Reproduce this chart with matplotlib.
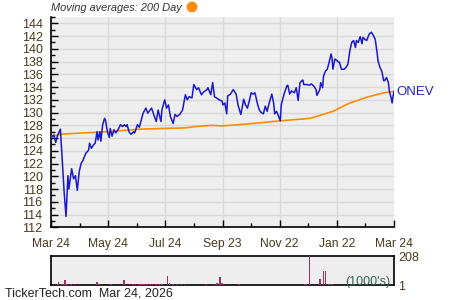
import matplotlib
matplotlib.use("Agg")
import matplotlib.pyplot as plt
import numpy as np

plt.rcParams["font.family"] = ["Liberation Sans", "DejaVu Sans"]

# --- data (calendar days since Mar 24 of previous year) ---
price_days = [0, 1, 3, 5, 7, 10, 11, 14, 16, 18, 19, 22, 24, 26, 28, 30, 32, 34, 37, 40,
              41, 43, 45, 47, 49, 50, 52, 53, 55, 57, 58, 60, 62, 63, 65, 67, 69, 72, 74, 76,
              78, 80, 81, 83, 85, 88, 89, 92, 94, 98, 101, 103, 107, 110, 112, 114, 117, 118, 121, 123,
              125, 127, 130, 132, 134, 137, 140, 143, 145, 147, 150, 152, 155, 157, 160, 163, 166, 167, 170, 172,
              174, 176, 179, 182, 183, 185, 187, 188, 191, 194, 197, 199, 202, 204, 205, 207, 209, 211, 213, 215,
              217, 220, 222, 224, 226, 228, 230, 232, 235, 237, 238, 240, 242, 244, 245, 248, 251, 252, 254, 256,
              259, 261, 263, 265, 267, 268, 269, 272, 275, 277, 280, 282, 283, 286, 287, 289, 290, 292, 294, 296,
              298, 299, 300, 302, 304, 306, 307, 309, 312, 314, 316, 318, 320, 322, 324, 325, 327, 329, 331, 332,
              334, 336, 338, 339, 341, 343, 345, 347, 348, 350, 352, 354, 355, 357, 359, 360, 362, 363, 364, 365]
price_close = [126.0, 126.2, 126.5, 125.3, 126.4, 127.4, 124.9, 117.5, 113.7, 120.1, 118.0, 121.2, 119.6, 120.1, 117.8, 120.7, 122.0, 122.5, 123.6, 124.1,
               125.2, 124.4, 124.9, 125.2, 127.0, 125.7, 127.0, 125.5, 128.1, 129.1, 128.8, 127.0, 126.1, 127.5, 126.3, 127.3, 126.8, 127.5, 128.1, 127.8,
               128.1, 127.8, 128.1, 127.0, 126.6, 127.0, 126.8, 128.1, 127.7, 129.9, 130.7, 129.9, 130.7, 129.4, 128.6, 130.4, 128.6, 130.4, 132.0, 130.7,
               131.2, 129.4, 128.3, 129.7, 129.4, 129.7, 130.4, 132.8, 132.0, 132.5, 132.3, 134.4, 133.6, 133.9, 132.8, 133.3, 133.6, 133.9, 132.8, 134.7,
               132.5, 132.3, 132.0, 131.8, 131.2, 131.5, 129.8, 132.6, 132.9, 133.6, 132.9, 131.2, 129.7, 131.2, 132.1, 131.2, 130.7, 131.8, 133.1, 132.9,
               133.1, 131.2, 130.3, 130.0, 129.8, 131.0, 130.2, 131.4, 132.9, 131.4, 129.8, 130.2, 129.5, 128.7, 131.2, 132.9, 134.2, 134.3, 132.9, 133.4,
               133.1, 133.9, 131.9, 134.7, 135.0, 135.1, 134.4, 134.4, 134.3, 134.5, 134.1, 133.6, 132.7, 133.6, 134.7, 133.9, 135.7, 136.5, 136.8, 137.9,
               139.2, 138.6, 136.8, 138.4, 138.2, 137.9, 137.9, 136.8, 136.8, 137.1, 137.6, 139.7, 141.0, 141.3, 140.2, 141.3, 141.0, 141.9, 140.8, 141.8,
               141.5, 141.3, 142.1, 142.4, 142.6, 142.1, 141.5, 139.4, 138.1, 137.1, 136.5, 135.0, 135.0, 135.5, 134.7, 133.4, 132.3, 131.5, 132.6, 133.3]

ma_days = [0, 10, 33, 49, 70, 95, 143, 153, 171, 182, 208, 244, 276, 300, 318, 336, 354, 364]
ma_vals = [126.2, 126.6, 126.8, 126.9, 127.1, 127.4, 127.6, 127.8, 128.0, 127.9, 128.2, 128.7, 129.1, 130.2, 131.5, 132.4, 133.1, 133.3]

vol_days = [7, 8, 12, 13, 15, 17, 21, 26, 49, 50, 58, 64, 78, 87, 90, 94, 96, 98, 100, 102,
            105, 108, 112, 115, 118, 124, 126, 130, 134, 139, 142, 165, 174, 177, 180, 182, 200, 258, 270, 272,
            275, 286, 290, 292, 296, 299, 302, 365]
vol_k = [12, 22, 7, 10, 41, 10, 7, 7, 26, 10, 5, 7, 36, 7, 10, 12, 10, 12, 8, 10,
         12, 7, 8, 7, 10, 65, 14, 7, 7, 10, 12, 7, 7, 17, 57, 14, 7, 5, 7, 7,
         208, 45, 105, 100, 10, 10, 5, 5]

tick_labels = ["Mar 24", "May 24", "Jul 24", "Sep 23", "Nov 22", "Jan 22", "Mar 24"]
ticker = "ONEV"

txt_col = "#4a3a1c"
bg = "#EEEEEE"
grid_col = "#D9D9D9"

fig = plt.figure(figsize=(4.5, 3.0), dpi=100)
ax = fig.add_axes([51 / 450, 1 - 227.3 / 300, 343 / 450, 210.6 / 300])
ax.set_facecolor(bg)

ax.plot(ma_days, ma_vals, color="#FF8C00", lw=1.2, zorder=3)
ax.plot(price_days, price_close, color="#1a1acc", lw=1.1, zorder=4)

xt = np.linspace(0, 365, 7)
ax.set_xlim(0, 365)
ax.set_ylim(112, 145.04)
ax.set_xticks(xt)
ax.set_xticklabels(tick_labels)
ax.set_xticks((xt[:-1] + xt[1:]) / 2, minor=True)
ax.set_yticks(np.arange(112, 145, 2))
ax.set_yticks(np.arange(112, 146, 1), minor=True)
ax.grid(True, which="major", color=grid_col, lw=1.0, zorder=0)
ax.set_axisbelow(True)
ax.tick_params(axis="both", which="major", direction="in", length=5, width=1,
               labelsize=9, labelcolor=txt_col, color="black")
ax.tick_params(axis="x", labelsize=8.7, pad=8)
ax.tick_params(axis="both", which="minor", direction="in", length=3, width=1, color="black")
ax.tick_params(axis="y", pad=6)
for s in ["top", "right"]:
    ax.spines[s].set_visible(False)
for s in ["left", "bottom"]:
    ax.spines[s].set_linewidth(1.2)

ax.text(1.008, (ma_vals[-1] - 112) / (145.04 - 112), ticker, transform=ax.transAxes,
        color="#2222cc", fontsize=9.5, va="center", ha="left")

fig.text(51 / 450, 1 - 8 / 300, "Moving averages: 200 Day", fontsize=7.9, style="italic",
         color="#333333", va="center", ha="left")
fig.patches.append(matplotlib.patches.Circle((192 / 100, (300 - 7) / 100), 0.047,
                                             transform=fig.dpi_scale_trans, color="#FF8C00"))

# volume panel
vax = fig.add_axes([51 / 450, 1 - 285.3 / 300, 343 / 450, 29 / 300])
vax.set_facecolor(bg)
vax.bar(vol_days, vol_k, width=1.8, color="#993366", antialiased=False, zorder=3)
vax.set_xlim(0, 365)
vax.set_ylim(1, 208)
vax.set_xticks([])
vax.yaxis.tick_right()
vax.set_yticks([1, 208])
vax.set_yticklabels(["1", "208"])
vax.tick_params(axis="y", length=0, pad=3, labelsize=9, labelcolor=txt_col)
for s in vax.spines.values():
    s.set_linewidth(1.2)
vax.text(0.99, 0.12, "(1000's)", transform=vax.transAxes, ha="right", va="center",
         fontsize=9, color="#336655")

fig.text(5 / 450, 1 - 294 / 300, "TickerTech.com  Mar 24, 2026", fontsize=9,
         color="#222222", va="center", ha="left")

fig.savefig("out.png", dpi=100)
